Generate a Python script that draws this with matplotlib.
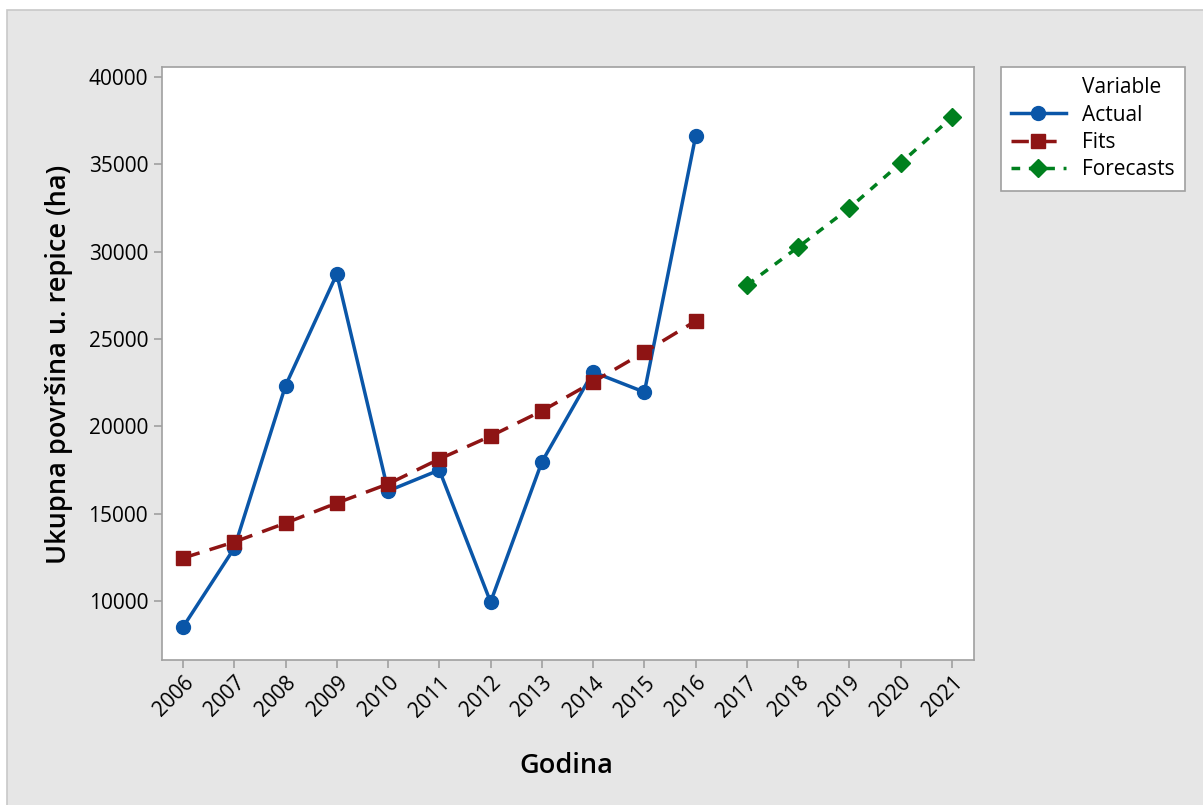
import matplotlib
matplotlib.use("Agg")
import matplotlib.pyplot as plt
from matplotlib.lines import Line2D
from matplotlib.patches import Rectangle

plt.rcParams['font.family'] = ['Open Sans', 'DejaVu Sans']

years_actual = [2006, 2007, 2008, 2009, 2010, 2011, 2012, 2013, 2014, 2015, 2016]
actual = [8510, 13030, 22330, 28720, 16300, 17500, 9940, 17960, 23110, 21960, 36620]
fits = [12460, 13380, 14460, 15610, 16700, 18130, 19440, 20880, 22540, 24250, 26030]
years_forecast = [2017, 2018, 2019, 2020, 2021]
forecasts = [28090, 30260, 32500, 35070, 37700]
xticks = list(range(2006, 2022))
yticks = [10000, 15000, 20000, 25000, 30000, 35000, 40000]

W, H = 1203, 805
fig = plt.figure(figsize=(W / 100, H / 100), dpi=100, facecolor='white')
bg = Rectangle((7 / W, -0.01), 1.02, 1 - 10 / H + 0.01, transform=fig.transFigure,
               facecolor='#e6e6e6', edgecolor='#c8c8c8', linewidth=1.2, zorder=-10)
fig.patches.append(bg)

ax = fig.add_axes([162 / W, 1 - 660 / H, (974 - 162) / W, (660 - 67) / H])
ax.set_facecolor('white')

blue = '#0a56a8'
red = '#8e1414'
green = '#00801e'

ax.plot(years_actual, actual, color=blue, lw=2.5, marker='o', ms=10, zorder=3)
ax.plot(years_actual, fits, color=red, lw=2.5, ls=(0, (5, 3)), marker='s', ms=10, zorder=4)
ax.plot(years_forecast, forecasts, color=green, lw=2.5, ls=(0, (2.5, 2.5)), marker='D', ms=9.5, zorder=4)

ax.set_xlim(2005.59, 2021.43)
ax.set_ylim(6623, 40572)
ax.set_xticks(xticks)
ax.set_xticklabels([str(x) for x in xticks])
ax.set_yticks(yticks)
ax.set_yticklabels([str(y) for y in yticks])

for s in ax.spines.values():
    s.set_color('#a0a0a0')
    s.set_linewidth(1.2)
ax.tick_params(axis='both', direction='out', length=6, width=1.2, color='#a0a0a0',
               labelsize=15, labelcolor='black')
ax.tick_params(axis='x', pad=3)
ax.tick_params(axis='y', pad=4)
for lab in ax.get_xticklabels():
    lab.set_rotation(45)
    lab.set_ha('right')
    lab.set_va('top')
    lab.set_rotation_mode('anchor')

fig.text(59 / W, 1 - 364 / H, 'Ukupna površina u. repice (ha)', rotation=90,
         ha='center', va='center', fontsize=19.5, fontweight='semibold')
fig.text(566 / W, 1 - 766 / H, 'Godina', ha='center', va='center',
         fontsize=19.5, fontweight='semibold')

handles = [
    Line2D([], [], color='none'),
    Line2D([], [], color=blue, lw=2.5, marker='o', ms=10),
    Line2D([], [], color=red, lw=2.5, ls=(0, (5, 3)), marker='s', ms=10),
    Line2D([], [], color=green, lw=2.5, ls=(0, (2.5, 2.5)), marker='D', ms=9.5),
]
labels = ['Variable', 'Actual', 'Fits', 'Forecasts']
leg = fig.legend(handles, labels, loc='upper left', bbox_to_anchor=(1001 / W, 1 - 67 / H),
                 frameon=True, fancybox=False, fontsize=15, handlelength=2.6,
                 borderaxespad=0, labelspacing=0.3, handletextpad=0.8,
                 borderpad=0.5, edgecolor='#a0a0a0', facecolor='white', framealpha=1)
leg.get_frame().set_linewidth(1.2)

fig.savefig('out.png', dpi=100, facecolor=fig.get_facecolor())
